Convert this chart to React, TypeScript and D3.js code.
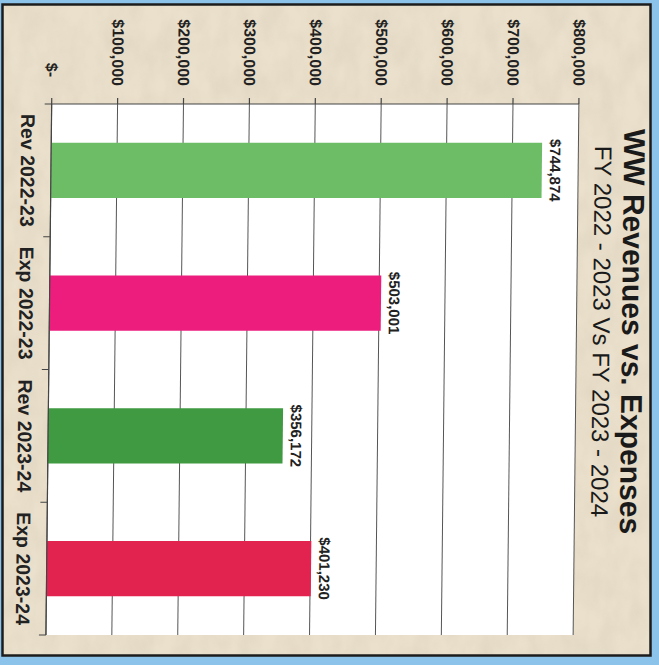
import React from "react";
import * as d3 from "d3";

const categories = ["Rev 2022-23", "Exp 2022-23", "Rev 2023-24", "Exp 2023-24"];
const values = [744874, 503001, 356172, 401230];
const barColors = ["#6dbd67", "#ec1d7d", "#3f9a41", "#e3234f"];
const tickValues = [0, 100000, 200000, 300000, 400000, 500000, 600000, 700000, 800000];
const tickLabels = ["$-", "$100,000", "$200,000", "$300,000", "$400,000", "$500,000", "$600,000", "$700,000", "$800,000"];
const title = "WW Revenues vs. Expenses";
const subtitle = "FY 2022 - 2023 Vs FY 2023 - 2024";

const W = 659;
const H = 665;
const FONT = "'Liberation Sans', Arial, Helvetica, sans-serif";

export default function App() {
  // upright frame (before rotating the whole chart 90deg clockwise)
  const x = d3
    .scaleBand<string>()
    .domain(categories)
    .range([104, 635])
    .paddingInner(0.585)
    .paddingOuter(0.2925);
  const y = d3.scaleLinear().domain([0, 800000]).range([609.8, 82.6]);
  const fmt = d3.format("$,");
  const skewDeg = -0.62;
  const k = Math.tan((0.62 * Math.PI) / 180);
  const cy = 332.5;
  const transform = `translate(${k * cy},0) skewX(${skewDeg}) translate(${W},0) rotate(90)`;
  const [x0, x1] = x.range();
  const y0 = y(0);
  const bandEdges = [x0, ...categories.map((c) => (x(c) as number) - (x.step() * x.paddingInner()) / 2 + x.step())];

  return (
    <svg
      width={W}
      height={H}
      viewBox={`0 0 ${W} ${H}`}
      style={{ position: "absolute", left: 0, top: 0, display: "block" }}
      fontFamily={FONT}
    >
      <defs>
        <filter id="paper" x="0" y="0" width="100%" height="100%">
          <feTurbulence type="fractalNoise" baseFrequency="0.05 0.03" numOctaves="3" seed="7" />
          <feColorMatrix
            type="matrix"
            values="0 0 0 0 0.62  0 0 0 0 0.55  0 0 0 0 0.42  0 0 0 1.2 -0.35"
          />
        </filter>
      </defs>
      <rect x={0} y={0} width={W} height={H} fill="#8cc3ea" />
      <rect x={2.5} y={4.5} width={648} height={651} fill="#eae0cc" stroke="#1c1c1c" strokeWidth={2.5} />
      <rect x={4} y={6} width={645} height={648} filter="url(#paper)" opacity={0.4} />

      <g transform={transform}>
        {/* plot area */}
        <rect x={x0} y={y(800000)} width={x1 - x0} height={y0 - y(800000)} fill="#ffffff" />
        {/* gridlines */}
        {tickValues.map((t) => (
          <line key={"g" + t} x1={x0} x2={x1} y1={y(t)} y2={y(t)} stroke="#555" strokeWidth={1} />
        ))}
        {/* value axis */}
        <line x1={x0} x2={x0} y1={y0} y2={y(800000)} stroke="#444" strokeWidth={1.2} />
        {tickValues.map((t) => (
          <line key={"vt" + t} x1={x0 - 6} x2={x0} y1={y(t)} y2={y(t)} stroke="#444" strokeWidth={1.2} />
        ))}
        {tickValues.map((t, i) => (
          <text
            key={"vl" + t}
            x={86 - (tickLabels[i].endsWith("-") ? 9 : 0)}
            y={y(t)}
            dy="0.36em"
            textAnchor="end"
            fontSize={16}
            fontWeight="bold"
            fill="#222"
          >
            {tickLabels[i]}
          </text>
        ))}

        {/* bars */}
        {categories.map((c, i) => (
          <rect
            key={"b" + c}
            x={x(c)}
            y={y(values[i])}
            width={x.bandwidth()}
            height={y0 - y(values[i])}
            fill={barColors[i]}
          />
        ))}
        {categories.map((c, i) => (
          <text
            key={"bl" + c}
            x={(x(c) as number) + x.bandwidth() / 2}
            y={y(values[i]) - 8}
            textAnchor="middle"
            fontSize={15}
            fontWeight="bold"
            fill="#222"
          >
            {fmt(values[i])}
          </text>
        ))}

        {/* category axis */}
        <line x1={x0} x2={x1} y1={y0} y2={y0} stroke="#444" strokeWidth={1.2} />
        {bandEdges.map((e, i) => (
          <line key={"ct" + i} x1={e} x2={e} y1={y0} y2={y0 + 7} stroke="#444" strokeWidth={1.2} />
        ))}
        {categories.map((c) => (
          <text
            key={"cl" + c}
            x={(x(c) as number) + x.bandwidth() / 2}
            y={640}
            textAnchor="middle"
            fontSize={19.5}
            fontWeight="bold"
            fill="#222"
          >
            {c}
          </text>
        ))}

        {/* titles */}
        <text x={331.5} y={37} textAnchor="middle" fontSize={30} fontWeight="bold" fill="#1a1a1a">
          {title}
        </text>
        <text x={331.5} y={66} textAnchor="middle" fontSize={24} fill="#1a1a1a">
          {subtitle}
        </text>
      </g>
    </svg>
  );
}
